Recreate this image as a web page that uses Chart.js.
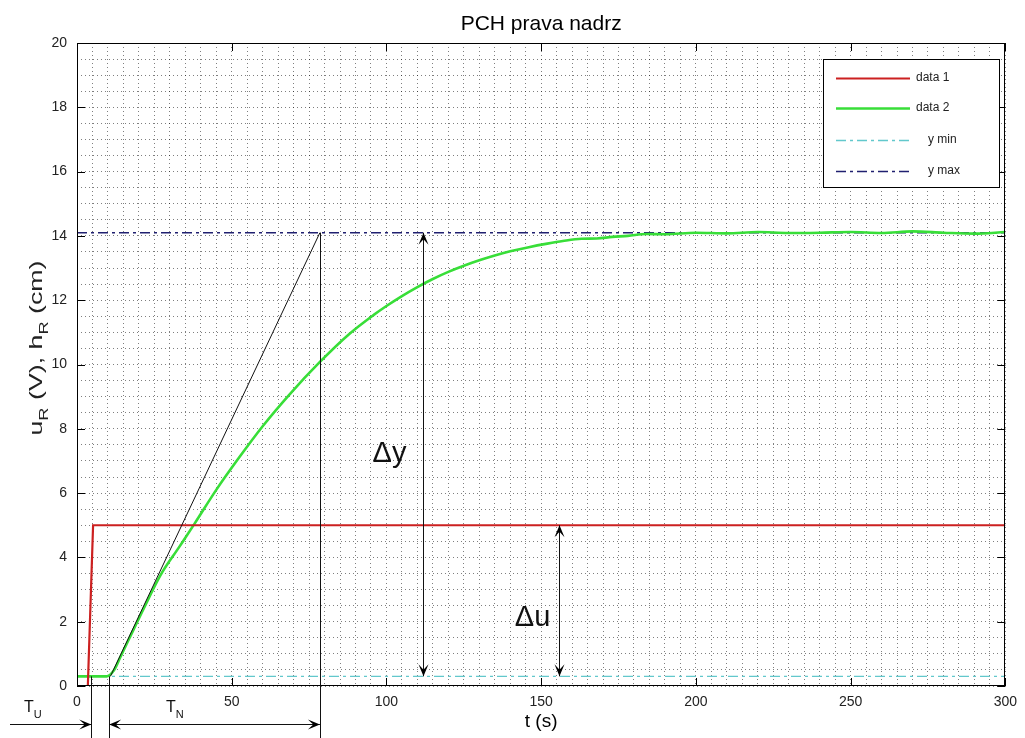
<!DOCTYPE html>
<html>
<head>
<meta charset="utf-8">
<script src="https://cdn.jsdelivr.net/npm/chart.js@4/dist/chart.umd.min.js"></script>
<style>
  html, body { margin: 0; padding: 0; background: #fff; overflow: hidden; }
  canvas { display: block; }
</style>
</head>
<body>
<canvas id="pch" width="1025" height="738"></canvas>
<script>
// data 1: step of the pump voltage
const timeRed = [0, 3.5, 5.2, 300];
const levelRed = [0, 0, 5, 5];

// data 2: measured tank level
const timeGreen = [0, 9.5, 12, 14, 17, 21.5, 27, 33, 38, 45, 52.5, 60, 68.5, 78.5, 88, 96, 100, 105, 110, 115, 120,
  125, 130, 135, 140, 146, 152, 157, 163, 168, 173, 178, 184, 190, 200, 210, 220, 230, 240, 250, 260, 270, 280, 290, 300];
const levelGreen = [0.3, 0.3, 0.5, 0.9, 1.5, 2.4, 3.45, 4.32, 5.05, 6.1, 7.12, 8.08, 9.05, 10.08, 10.95, 11.55, 11.82, 12.13, 12.41, 12.66, 12.88,
  13.07, 13.24, 13.39, 13.52, 13.65, 13.76, 13.84, 13.91, 13.92, 13.97, 14.0, 14.06, 14.05, 14.1, 14.08, 14.12, 14.09, 14.1, 14.12, 14.09, 14.14, 14.1, 14.07, 14.12];

// limits
const timeLimits = [0, 300];
const yMinLevel = [0.3, 0.3];
const yMaxLevel = [14.1, 14.1];

// tick labels
const xTickLabels = [0, 50, 100, 150, 200, 250, 300];
const yTickLabels = [0, 2, 4, 6, 8, 10, 12, 14, 16, 18, 20];

// hand drawn construction (data units)
const tangentLine = [[10.8, 0.3], [78.5, 14.1]];
const tuMarks = [4.6, 10.4];       // end of T_U / start of T_N
const tnEnd = 78.5;
const deltaY = [111.9, 0.3, 14.1]; // t, from, to
const deltaU = [155.9, 0.3, 5];

const pts = (xs, ys) => xs.map((x, i) => ({ x: x, y: ys[i] }));
const FONT = '"Liberation Sans", Arial, sans-serif';

function arrowHead(ctx, x1, y1, x2, y2) {
  const a = Math.atan2(y2 - y1, x2 - x1);
  const len = 12, w = 5;
  ctx.beginPath();
  ctx.moveTo(x2, y2);
  ctx.lineTo(x2 - len * Math.cos(a) + w * Math.sin(a), y2 - len * Math.sin(a) - w * Math.cos(a));
  ctx.lineTo(x2 - 0.55 * len * Math.cos(a), y2 - 0.55 * len * Math.sin(a));
  ctx.lineTo(x2 - len * Math.cos(a) - w * Math.sin(a), y2 - len * Math.sin(a) + w * Math.cos(a));
  ctx.closePath();
  ctx.fill();
}

function line(ctx, x1, y1, x2, y2) {
  ctx.beginPath();
  ctx.moveTo(x1, y1);
  ctx.lineTo(x2, y2);
  ctx.stroke();
}

function subText(ctx, main, sub, x, y, size, subSize, drop) {
  ctx.font = size + 'px ' + FONT;
  ctx.fillText(main, x, y);
  const w = ctx.measureText(main).width;
  ctx.font = subSize + 'px ' + FONT;
  if (sub) ctx.fillText(sub, x + w, y + drop);
  return w + (sub ? ctx.measureText(sub).width : 0);
}

const extras = {
  id: 'extras',
  afterDraw(chart) {
    const ctx = chart.ctx;
    const xs = chart.scales.x, ys = chart.scales.y;
    const a = chart.chartArea;
    const X = v => xs.getPixelForValue(v);
    const Y = v => ys.getPixelForValue(v);
    ctx.save();

    // box and inward ticks
    ctx.strokeStyle = '#000';
    ctx.lineWidth = 1;
    ctx.strokeRect(Math.round(a.left) + 0.5, Math.round(a.top) + 0.5, Math.round(a.right - a.left) - 1, Math.round(a.bottom - a.top) - 1);
    xTickLabels.forEach(v => {
      const px = Math.round(X(v)) + 0.5;
      line(ctx, px, a.bottom, px, a.bottom - 8);
      line(ctx, px, a.top, px, a.top + 8);
    });
    yTickLabels.forEach(v => {
      const py = Math.round(Y(v)) + 0.5;
      line(ctx, a.left, py, a.left + 8, py);
      line(ctx, a.right, py, a.right - 8, py);
    });

    // tangent and construction lines
    ctx.fillStyle = '#000';
    ctx.strokeStyle = '#111';
    line(ctx, X(tangentLine[0][0]), Y(tangentLine[0][1]), X(tangentLine[1][0]), Y(tangentLine[1][1]));
    line(ctx, Math.round(X(tnEnd)) + 0.5, Y(14.1), Math.round(X(tnEnd)) + 0.5, 738);
    line(ctx, Math.round(X(tuMarks[0])) + 0.5, Y(0.3), Math.round(X(tuMarks[0])) + 0.5, 738);
    line(ctx, Math.round(X(tuMarks[1])) + 0.5, Y(0.3), Math.round(X(tuMarks[1])) + 0.5, 738);

    // T_U arrow and T_N double arrow
    const ay = Math.round(Y(-1.17)) + 0.5;
    line(ctx, 10, ay, X(tuMarks[0]), ay);
    arrowHead(ctx, 10, ay, X(tuMarks[0]), ay);
    line(ctx, X(tuMarks[1]), ay, X(tnEnd), ay);
    arrowHead(ctx, X(tnEnd), ay, X(tuMarks[1]), ay);
    arrowHead(ctx, X(tuMarks[1]), ay, X(tnEnd), ay);

    // delta y and delta u
    [deltaY, deltaU].forEach(d => {
      const px = Math.round(X(d[0])) + 0.5;
      line(ctx, px, Y(d[1]), px, Y(d[2]));
      arrowHead(ctx, px, Y(d[2]), px, Y(d[1]));
      arrowHead(ctx, px, Y(d[1]), px, Y(d[2]));
    });

    ctx.textBaseline = 'alphabetic';
    ctx.textAlign = 'left';
    ctx.fillStyle = '#111';
    ctx.font = '29px ' + FONT;
    ctx.fillText('\u0394y', X(95.5), Y(6.97));
    ctx.fillText('\u0394u', X(141.5), Y(1.87));

    subText(ctx, 'T', 'U', 24, 712, 16, 11, 6);
    subText(ctx, 'T', 'N', 166, 712, 16, 11, 6);

    // title and axis titles
    ctx.textAlign = 'center';
    ctx.fillStyle = '#000';
    ctx.font = '21px ' + FONT;
    ctx.fillText('PCH prava nadrz', (a.left + a.right) / 2, 30);
    ctx.font = '19px ' + FONT;
    ctx.fillText('t (s)', (a.left + a.right) / 2, 727);

    // y axis title with subscripts, stretched like the original
    ctx.save();
    ctx.translate(42, 348);
    ctx.rotate(-Math.PI / 2);
    ctx.textAlign = 'left';
    ctx.fillStyle = '#222';
    const parts = [['u', 'R'], [' (V), h', 'R'], [' (cm)', '']];
    let total = 0;
    parts.forEach(p => {
      ctx.font = '19px ' + FONT;
      total += ctx.measureText(p[0]).width;
      ctx.font = '13px ' + FONT;
      total += p[1] ? ctx.measureText(p[1]).width : 0;
    });
    ctx.scale(175 / total, 1);
    let cx = -total / 2;
    parts.forEach(p => { cx += subText(ctx, p[0], p[1], cx, 0, 19, 13, 6); });
    ctx.restore();

    // legend box
    const lx = 823, ly = 59, lw = 176, lh = 128;
    ctx.fillStyle = '#fff';
    ctx.fillRect(lx, ly, lw, lh);
    ctx.strokeStyle = '#000';
    ctx.lineWidth = 1;
    ctx.strokeRect(lx + 0.5, ly + 0.5, lw, lh);
    const rows = [78, 108, 140, 171];
    const textX = [916, 916, 928, 928];
    ctx.textBaseline = 'middle';
    chart.data.datasets.forEach((ds, i) => {
      ctx.strokeStyle = ds.borderColor;
      ctx.lineWidth = ds.borderWidth;
      ctx.setLineDash(ds.borderDash || []);
      line(ctx, 836, rows[i] + 0.5, 910, rows[i] + 0.5);
      ctx.setLineDash([]);
      ctx.fillStyle = '#222';
      ctx.textAlign = 'left';
      ctx.font = '12px ' + FONT;
      ctx.fillText(ds.label, textX[i], rows[i]);
    });

    ctx.restore();
  }
};

const tickFont = { family: FONT, size: 14 };
const gridStyle = {
  color: 'rgba(0,0,0,0.5)',
  lineWidth: 1,
  drawTicks: false
};

new Chart(document.getElementById('pch'), {
  type: 'line',
  data: {
    datasets: [
      { label: 'data 1', data: pts(timeRed, levelRed), borderColor: '#cc2020', borderWidth: 2.2 },
      { label: 'data 2', data: pts(timeGreen, levelGreen), borderColor: '#38de38', borderWidth: 2.6, cubicInterpolationMode: 'monotone' },
      { label: 'y min', data: pts(timeLimits, yMinLevel), borderColor: '#62c8cc', borderWidth: 1.4, borderDash: [10, 4, 3, 4] },
      { label: 'y max', data: pts(timeLimits, yMaxLevel), borderColor: '#202070', borderWidth: 1.4, borderDash: [10, 4, 3, 4] }
    ]
  },
  options: {
    responsive: false,
    animation: false,
    devicePixelRatio: 1,
    elements: { point: { radius: 0 }, line: { tension: 0 } },
    layout: { padding: { top: 43, right: 0, left: 0, bottom: 0 } },
    plugins: { legend: { display: false }, title: { display: false }, tooltip: { enabled: false } },
    scales: {
      x: {
        type: 'linear',
        min: 0, max: 300,
        afterFit: s => { s.height = 52; },
        grid: gridStyle,
        border: { display: false, dash: [1, 3] },
        ticks: {
          stepSize: 5, autoSkip: false, maxRotation: 0, padding: 8,
          color: '#222', font: tickFont,
          callback: v => (xTickLabels.includes(v) ? v : '')
        }
      },
      y: {
        min: 0, max: 20,
        afterFit: s => { s.width = 77; },
        grid: gridStyle,
        border: { display: false, dash: [1, 3] },
        ticks: {
          stepSize: 0.5, autoSkip: false, padding: 10,
          color: '#222', font: tickFont,
          callback: v => (yTickLabels.includes(v) ? v : '')
        }
      }
    }
  },
  plugins: [extras]
});
</script>
</body>
</html>
